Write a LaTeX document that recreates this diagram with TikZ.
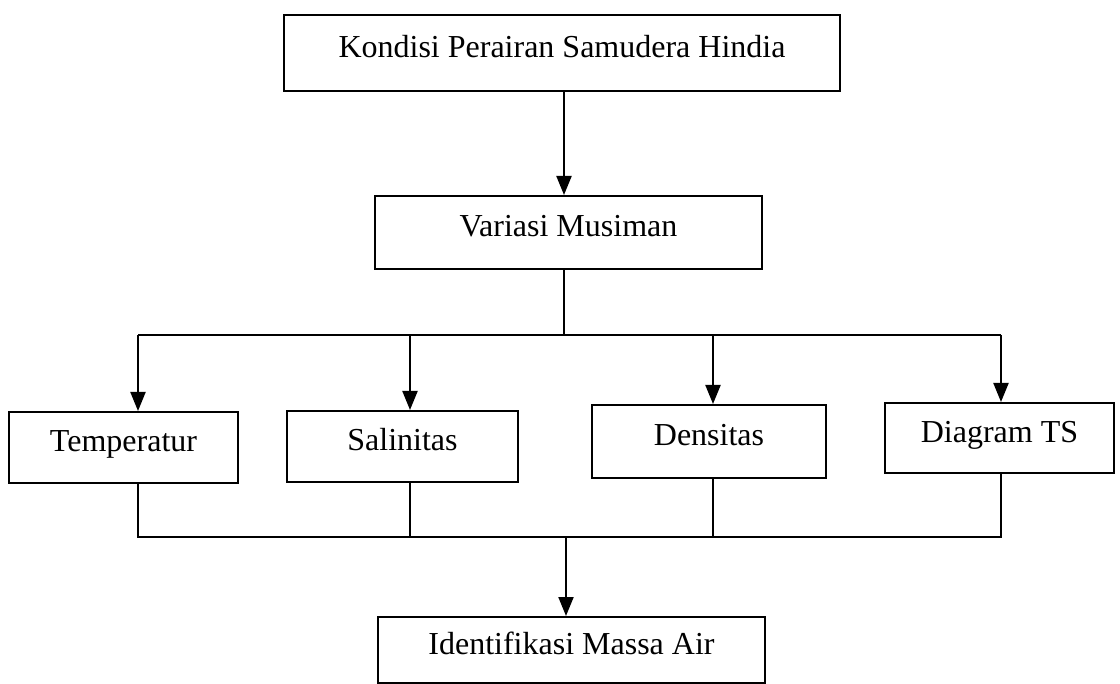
\documentclass[tikz,border=0pt]{standalone}
\usepackage{fontspec}
\setmainfont{Liberation Serif}
\usetikzlibrary{arrows.meta}
\tikzset{
  box/.style={draw=black, line width=2pt, inner sep=0pt, text height=16pt, text depth=7pt, font=\fontsize{32}{36}\selectfont},
  link/.style={draw=black, line width=2pt},
  arr/.style={link, -{Triangle[width=15pt,length=19pt]}}
}
\begin{document}
\begin{tikzpicture}[x=1pt,y=-1pt]
\useasboundingbox[fill=white] (0,0) rectangle (1120,684);
\node[box, minimum width=556pt, minimum height=76pt] (top) at (562,53) {Kondisi Perairan Samudera Hindia};
\node[box, minimum width=387pt, minimum height=73pt] (var) at (568.5,232.5) {Variasi Musiman};
\node[box, minimum width=229pt, minimum height=71pt] (temp) at (123.5,447.5) {Temperatur};
\node[box, minimum width=231pt, minimum height=71pt] (sal) at (402.5,446.5) {Salinitas};
\node[box, minimum width=234pt, minimum height=73pt] (dens) at (709,441.5) {Densitas};
\node[box, minimum width=229pt, minimum height=70pt] (dts) at (999.5,438) {Diagram TS};
\node[box, minimum width=387pt, minimum height=66pt] (bot) at (571.5,650) {Identifikasi Massa Air};
% upper bus
\coordinate (j1) at (564,335);
\coordinate (busL) at (138,335);
\coordinate (busS) at (410,335);
\coordinate (busD) at (713,335);
\coordinate (busR) at (1001,335);
\draw[arr] (top.south -| j1) -- (var.north -| j1);
\draw[link] (var.south -| j1) -- (j1);
\draw[link] (busL) -- (busR);
\draw[arr] (busL) -- (temp.north -| busL);
\draw[arr] (busS) -- (sal.north -| busS);
\draw[arr] (busD) -- (dens.north -| busD);
\draw[arr] (busR) -- (dts.north -| busR);
% lower bus
\coordinate (cL) at (138,537);
\coordinate (cS) at (410,537);
\coordinate (cM) at (566,537);
\coordinate (cD) at (713,537);
\coordinate (cR) at (1001,537);
\draw[link] (temp.south -| cL) -- (cL) -- (cR) -- (dts.south -| cR);
\draw[link] (sal.south -| cS) -- (cS);
\draw[link] (dens.south -| cD) -- (cD);
\draw[arr] (cM) -- (bot.north -| cM);
\end{tikzpicture}
\end{document}
